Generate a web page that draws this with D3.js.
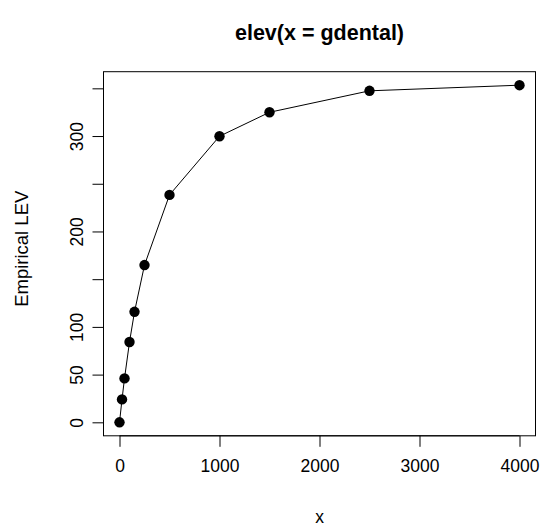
<!DOCTYPE html>
<html>
<head>
<meta charset="utf-8">
<script src="https://cdn.jsdelivr.net/npm/d3@7"></script>
<style>
  html, body { margin: 0; padding: 0; background: #fff; }
  svg { display: block; }
  text { font-family: "Liberation Sans", Arial, sans-serif; fill: #000; }
</style>
</head>
<body>
<script>
const title = "elev(x = gdental)";
const xLabel = "x";
const yLabel = "Empirical LEV";
const xValues = [0, 25, 50, 100, 150, 250, 500, 1000, 1500, 2500, 4000];
const levValues = [0, 24.0, 46.0, 84.2, 115.8, 164.8, 238.3, 299.8, 324.9, 347.4, 353.3];
const xTicks = [0, 1000, 2000, 3000, 4000];
const yTicks = [0, 50, 100, 150, 200, 250, 300, 350];
const yTickLabels = ["0", "50", "100", "", "200", "", "300", ""];

const W = 545, H = 526;
const pLeft = 103.5, pRight = 535.5, pTop = 71.7, pBottom = 435.8;

const svg = d3.select("body").append("svg").attr("width", W).attr("height", H);

const xmin = d3.min(xValues), xmax = d3.max(xValues);
const ymin = d3.min(levValues), ymax = d3.max(levValues);
const xpad = (xmax - xmin) * 0.04, ypad = (ymax - ymin) * 0.04;

const x = d3.scaleLinear().domain([xmin - xpad, xmax + xpad]).range([pLeft, pRight]);
const y = d3.scaleLinear().domain([ymin - ypad, ymax + ypad]).range([pBottom, pTop]);

const fs = 17.5;

// box
svg.append("rect").attr("x", pLeft).attr("y", pTop)
  .attr("width", pRight - pLeft).attr("height", pBottom - pTop)
  .attr("fill", "none").attr("stroke", "#000").attr("stroke-width", 1);

// x axis
const xAxis = d3.axisBottom(x).tickValues(xTicks).tickSize(11).tickPadding(13).tickFormat(d3.format("d"));
const gx = svg.append("g").attr("transform", `translate(0,${pBottom})`).call(xAxis);
gx.select(".domain").attr("d", `M${x(xTicks[0])},0H${x(xTicks[xTicks.length-1])}`).attr("stroke", "#000");
gx.selectAll(".tick line").attr("stroke", "#000");
gx.selectAll(".tick text").attr("font-size", fs).attr("font-family", "Liberation Sans, Arial, sans-serif");

// y axis
const yAxis = d3.axisLeft(y).tickValues(yTicks).tickSize(11).tickPadding(0)
  .tickFormat((d, i) => yTickLabels[i]);
const gy = svg.append("g").attr("transform", `translate(${pLeft},0)`).call(yAxis);
gy.select(".domain").attr("d", `M0,${y(yTicks[0])}V${y(yTicks[yTicks.length-1])}`).attr("stroke", "#000");
gy.selectAll(".tick line").attr("stroke", "#000");
gy.selectAll(".tick text")
  .attr("font-size", fs).attr("font-family", "Liberation Sans, Arial, sans-serif")
  .attr("text-anchor", "middle")
  .attr("x", null)
  .attr("transform", "translate(-27,0) rotate(-90)")
  .attr("dy", "0.35em");

// line
const line = d3.line().x((d, i) => x(xValues[i])).y(d => y(d));
svg.append("path").datum(levValues).attr("d", line)
  .attr("fill", "none").attr("stroke", "#000").attr("stroke-width", 1);

// points
svg.selectAll("circle.pt").data(levValues).enter().append("circle")
  .attr("class", "pt")
  .attr("cx", (d, i) => x(xValues[i])).attr("cy", d => y(d))
  .attr("r", 5.2).attr("fill", "#000");

// title
svg.append("text").attr("x", (pLeft + pRight) / 2).attr("y", 40)
  .attr("text-anchor", "middle").attr("font-weight", "bold").attr("font-size", 21.5)
  .text(title);

// axis titles
svg.append("text").attr("x", (pLeft + pRight) / 2).attr("y", 523)
  .attr("text-anchor", "middle").attr("font-size", fs).text(xLabel);
svg.append("text")
  .attr("transform", `translate(28,${(pTop + pBottom) / 2 - 5}) rotate(-90)`)
  .attr("text-anchor", "middle").attr("font-size", 18.5).text(yLabel);
</script>
</body>
</html>
